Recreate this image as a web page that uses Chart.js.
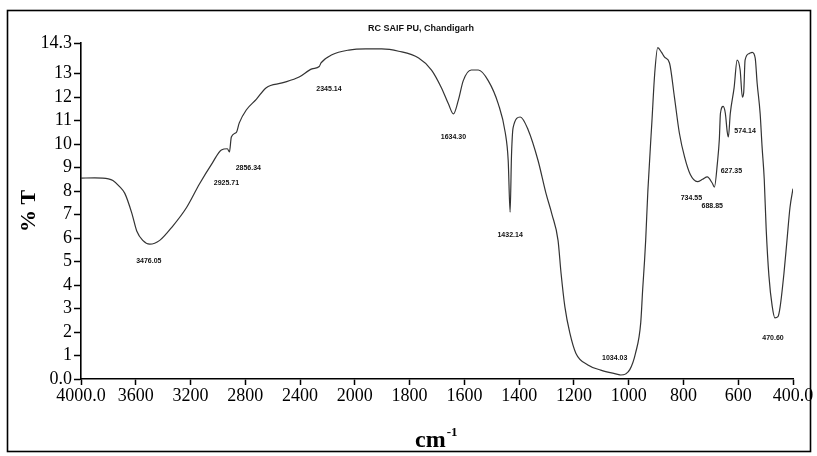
<!DOCTYPE html>
<html>
<head>
<meta charset="utf-8">
<script src="https://cdn.jsdelivr.net/npm/chart.js"></script>
<style>
  html, body { margin: 0; padding: 0; background: #fff; }
  #wrap { width: 817px; height: 456px; position: relative; }
</style>
</head>
<body>
<div id="wrap"><canvas id="ftirChart"></canvas></div>
<script>
// Spectrum (wavenumber in cm-1, transmittance in %)
const waveNumbers = [
  4000, 3900, 3800, 3767, 3720, 3680, 3629, 3593, 3549, 3498, 3425, 3331, 3229, 3135,
  3040, 2975, 2931, 2916, 2902, 2865, 2844, 2793, 2720, 2647, 2531, 2407, 2313, 2260,
  2247, 2167, 2044, 1960, 1902, 1840, 1767, 1720, 1684, 1658, 1640, 1622, 1604, 1575,
  1549, 1513, 1476, 1451, 1440, 1433, 1428, 1422, 1396, 1367, 1331, 1302, 1280, 1258,
  1247, 1233, 1215, 1193, 1149, 1102, 1040, 1029, 996, 975, 956, 949, 942, 938,
  930, 915, 905, 894, 880, 869, 851, 833, 815, 796, 775, 749, 730, 713,
  695, 687, 676, 669, 665, 655, 647, 640, 636, 629, 615, 604, 593, 585,
  580, 575, 560, 549, 538, 531, 520, 513, 505, 498, 488, 476, 466, 455,
  447, 433, 422, 411, 400
];
const transmittance = [
  8.55, 8.56, 8.52, 8.45, 8.2, 7.9, 7.06, 6.3, 5.9, 5.74, 5.9, 6.5, 7.3, 8.3,
  9.2, 9.75, 9.8, 9.66, 10.3, 10.5, 10.9, 11.45, 11.9, 12.4, 12.6, 12.85, 13.2, 13.3,
  13.45, 13.8, 14.0, 14.05, 14.05, 13.95, 13.66, 13.15, 12.4, 11.7, 11.28, 11.87, 12.7, 13.15,
  13.15, 12.7, 11.7, 10.5, 9.3, 7.1, 9.5, 10.7, 11.15, 10.6, 9.3, 7.9, 7.0, 5.9,
  4.5, 3.07, 1.96, 1.1, 0.6, 0.38, 0.2, 0.17, 0.4, 1.1, 2.4, 3.8, 5.06, 5.9,
  8.0, 11.0, 13.0, 14.1, 13.9, 13.7, 13.45, 12.0, 10.47, 9.45, 8.7, 8.4, 8.5, 8.6,
  8.34, 8.17, 9.2, 10.2, 11.3, 11.6, 11.3, 10.5, 10.3, 11.3, 12.4, 13.57, 13.15, 12.0,
  12.2, 13.57, 13.85, 13.9, 13.66, 12.6, 11.3, 9.9, 8.5, 6.4, 4.4, 3.1, 2.6, 2.65,
  3.07, 4.5, 5.9, 7.3, 8.1
];

// Peak annotations printed by the instrument (text, wavenumber, %T of the label)
const peakLabels = ['3476.05', '2925.71', '2856.34', '2345.14', '1634.30', '1432.14',
                    '1034.03', '734.55', '688.85', '627.35', '574.14', '470.60'];
const peakLabelX = [3505, 2938, 2778, 2189, 1640, 1433, 1051, 771, 695, 625, 575, 473];
const peakLabelY = [5.02, 8.34, 8.98, 12.34, 10.3, 6.13, 0.89, 7.7, 7.36, 8.85, 10.55, 1.74];

const xTickValues = [4000, 3600, 3200, 2800, 2400, 2000, 1800, 1600, 1400, 1200, 1000, 800, 600, 400];
const xTickLabels = ['4000.0', '3600', '3200', '2800', '2400', '2000', '1800', '1600',
                     '1400', '1200', '1000', '800', '600', '400.0'];
const yTickValues = [0, 1, 2, 3, 4, 5, 6, 7, 8, 9, 10, 11, 12, 13, 14.3];
const yTickLabels = ['0.0', '1', '2', '3', '4', '5', '6', '7', '8', '9', '10', '11', '12', '13', '14.3'];

const chartTitle = 'RC SAIF PU, Chandigarh';

/**
 * Wavenumber axis with the usual instrument scale change at 2000 cm-1
 * (400 cm-1 per division above, 200 cm-1 per division below)
 */
const SCALE_BREAK = 2000;
class FtirScale extends Chart.LinearScale {
    _fracAt(v) {
        const hi = this.max, lo = this.min;
        const split = 5 / 13;
        if (v >= SCALE_BREAK) return (hi - v) / (hi - SCALE_BREAK) * split;
        return split + (SCALE_BREAK - v) / (SCALE_BREAK - lo) * (1 - split);
    }
    getPixelForValue(value) {
        if (value === null || value === undefined) return NaN;
        return this.getPixelForDecimal(this._fracAt(value));
    }
    getValueForPixel(pixel) {
        const d = this.getDecimalForPixel(pixel);
        const split = 5 / 13;
        if (d <= split) return this.max - d / split * (this.max - SCALE_BREAK);
        return SCALE_BREAK - (d - split) / (1 - split) * (SCALE_BREAK - this.min);
    }
}
FtirScale.id = 'ftir';
FtirScale.defaults = Chart.LinearScale.defaults;
Chart.register(FtirScale);

// Frame, title, axis titles and peak labels
const paperPlugin = {
    id: 'paper',
    beforeDraw(chart) {
        const ctx = chart.ctx;
        ctx.save();
        ctx.fillStyle = '#fff';
        ctx.fillRect(0, 0, chart.width, chart.height);
        ctx.restore();
    },
    afterDraw(chart) {
        const ctx = chart.ctx;
        const xs = chart.scales.x;
        const ys = chart.scales.y;
        ctx.save();
        ctx.strokeStyle = '#000';
        ctx.lineWidth = 1.6;
        ctx.strokeRect(7.5, 10.5, 803, 441);

        ctx.fillStyle = '#111';
        ctx.textAlign = 'center';
        ctx.textBaseline = 'middle';
        ctx.font = 'bold 9px "Liberation Sans"';
        ctx.fillText(chartTitle, 421, 29);

        ctx.font = 'bold 7px "Liberation Sans"';
        peakLabels.forEach((t, i) => {
            ctx.fillText(t, xs.getPixelForValue(peakLabelX[i]), ys.getPixelForValue(peakLabelY[i]));
        });

        ctx.fillStyle = '#000';
        // y title
        ctx.save();
        ctx.translate(29, 211);
        ctx.rotate(-Math.PI / 2);
        ctx.font = 'bold 22px "Liberation Serif"';
        ctx.fillText('% T', 0, 0);
        ctx.restore();

        // x title with superscript
        ctx.textAlign = 'left';
        ctx.textBaseline = 'alphabetic';
        ctx.font = 'bold 24px "Liberation Serif"';
        ctx.fillText('cm', 415, 447);
        const w = ctx.measureText('cm').width;
        ctx.font = 'bold 13px "Liberation Serif"';
        ctx.fillText('-1', 415 + w + 1, 436);
        ctx.restore();
    }
};

document.addEventListener('DOMContentLoaded', function() {
    const ctx = document.getElementById('ftirChart').getContext('2d');
    const points = waveNumbers.map((wn, i) => ({ x: wn, y: transmittance[i] }));

    new Chart(ctx, {
        type: 'line',
        data: {
            datasets: [{
                data: points,
                borderColor: '#333',
                borderWidth: 1.2,
                pointRadius: 0,
                fill: false,
                cubicInterpolationMode: 'monotone'
            }]
        },
        options: {
            responsive: true,
            maintainAspectRatio: false,
            animation: false,
            layout: { padding: { left: 0, right: 24, top: 43, bottom: 47 } },
            plugins: {
                legend: { display: false },
                tooltip: { enabled: false },
                title: { display: false }
            },
            scales: {
                x: {
                    type: 'ftir',
                    min: 400,
                    max: 4000,
                    afterBuildTicks: axis => { axis.ticks = xTickValues.map(v => ({ value: v })); },
                    afterFit: axis => { axis.height = 30; },
                    ticks: {
                        autoSkip: false,
                        maxRotation: 0,
                        padding: 0,
                        color: '#000',
                        font: { family: '"Liberation Serif"', size: 18 },
                        callback: (value, index) => xTickLabels[index]
                    },
                    grid: { drawOnChartArea: false, drawTicks: true, tickLength: 6, tickColor: '#000', tickWidth: 1.5 },
                    border: { display: true, color: '#000', width: 1.6 }
                },
                y: {
                    type: 'linear',
                    min: 0,
                    max: 14.3,
                    afterBuildTicks: axis => { axis.ticks = yTickValues.map(v => ({ value: v })); },
                    afterFit: axis => { axis.width = 81; },
                    ticks: {
                        autoSkip: false,
                        padding: 2,
                        color: '#000',
                        font: { family: '"Liberation Serif"', size: 18 },
                        callback: (value, index) => yTickLabels[index]
                    },
                    grid: { drawOnChartArea: false, drawTicks: true, tickLength: 7, tickColor: '#000', tickWidth: 1.5 },
                    border: { display: true, color: '#000', width: 1.6 }
                }
            }
        },
        plugins: [paperPlugin]
    });
});
</script>
</body>
</html>
